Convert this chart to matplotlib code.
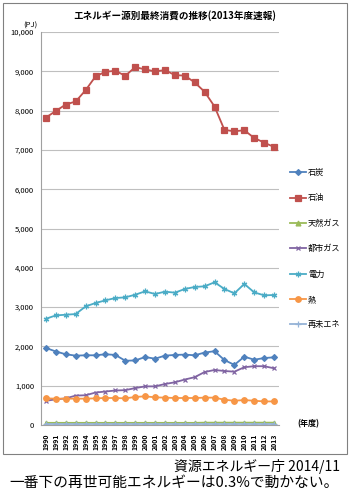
import matplotlib
matplotlib.use("Agg")
import matplotlib.pyplot as plt
from matplotlib.patches import Rectangle

plt.rcParams['font.family'] = ['Noto Sans CJK JP', 'DejaVu Sans']

years = [str(y) for y in range(1990, 2014)]

# 最終エネルギー消費 (PJ)
coal = [1960, 1870, 1800, 1765, 1774, 1774, 1800, 1783, 1635, 1643, 1730, 1687,
        1765, 1783, 1791, 1774, 1843, 1878, 1652, 1530, 1739, 1661, 1704, 1722]
oil = [7824, 7992, 8155, 8232, 8520, 8870, 8988, 9013, 8885, 9107, 9048, 8997,
       9031, 8903, 8890, 8717, 8478, 8104, 7508, 7474, 7500, 7304, 7186, 7074]
natgas = [55, 55, 55, 55, 55, 55, 55, 55, 55, 55, 55, 55,
          55, 55, 55, 55, 60, 60, 60, 60, 60, 60, 60, 60]
citygas = [617, 652, 678, 748, 757, 826, 852, 878, 887, 939, 983, 983,
           1043, 1087, 1157, 1217, 1348, 1400, 1374, 1357, 1470, 1496, 1496, 1443]
power = [2704, 2789, 2806, 2823, 3018, 3104, 3172, 3231, 3248, 3316, 3401, 3333,
         3393, 3367, 3461, 3512, 3529, 3631, 3461, 3350, 3589, 3375, 3299, 3308]
heat = [678, 670, 670, 670, 670, 678, 687, 687, 678, 713, 730, 704,
        696, 687, 687, 687, 696, 696, 643, 617, 635, 617, 600, 600]
renew = [35, 35, 35, 35, 35, 35, 35, 35, 35, 35, 35, 35,
         35, 35, 35, 35, 35, 35, 35, 35, 35, 35, 35, 35]

series = [
    ("石炭", coal, '#4F81BD', 'D', 3.0),
    ("石油", oil, '#C0504D', 's', 4.0),
    ("天然ガス", natgas, '#9BBB59', '^', 3.5),
    ("都市ガス", citygas, '#8064A2', 'x', 3.5),
    ("電力", power, '#4BACC6', (6, 2, 0), 4.0),
    ("熱", heat, '#F79646', 'o', 4.0),
    ("再未エネ", renew, '#95B3D7', '+', 4.0),
]

fig = plt.figure(figsize=(3.51, 4.96), dpi=100)
ax = fig.add_axes([41 / 351, 1 - 425 / 496, 238 / 351, 393 / 496])

x = list(range(len(years)))
for name, vals, col, mk, ms in series:
    ax.plot(x, vals, color=col, marker=mk, markersize=ms, linewidth=1.3,
            markeredgewidth=0.9, label=name)

ax.set_xlim(-0.5, len(years) - 0.5)
ax.set_ylim(0, 10000)
ax.set_yticks(range(0, 10001, 1000))
ax.set_yticklabels([f"{v:,}" for v in range(0, 10001, 1000)], fontsize=5.5)
ax.set_xticks(x)
ax.set_xticklabels(years, rotation=90, fontsize=5, fontweight='bold')
ax.tick_params(axis='y', length=0, pad=5)
ax.tick_params(axis='x', length=0, pad=6)
ax.grid(axis='y', color='#BFBFBF', linewidth=0.8)
ax.set_axisbelow(True)
for s in ['top', 'right']:
    ax.spines[s].set_visible(False)
for s in ['left', 'bottom']:
    ax.spines[s].set_color('#A0A0A0')
    ax.spines[s].set_linewidth(0.8)

leg = ax.legend(loc='upper left', bbox_to_anchor=(290 / 351, 1 - 168 / 496),
                bbox_transform=fig.transFigure, frameon=False, fontsize=5.9,
                labelspacing=2.0, handlelength=2.0, handletextpad=0.2,
                borderpad=0, borderaxespad=0)

fig.text(175 / 351, 1 - 16 / 496, "エネルギー源別最終消費の推移(2013年度速報)",
         ha='center', va='center', fontsize=6.9, fontweight='bold')
fig.text(30 / 351, 1 - 26 / 496, "(PJ)", ha='center', va='center', fontsize=5.5)
fig.text(308 / 351, 1 - 424 / 496, "(年度)", ha='center', va='center',
         fontsize=5.8, fontweight='bold')

fig.patches.append(Rectangle((3 / 351, 1 - 454 / 496), 344 / 351, 451 / 496,
                             transform=fig.transFigure, fill=False,
                             edgecolor='#808080', linewidth=0.8))

fig.text(340 / 351, 1 - 467 / 496, "資源エネルギー庁 2014/11",
         ha='right', va='center', fontsize=10)
fig.text(174 / 351, 1 - 483 / 496, "一番下の再世可能エネルギーは0.3%で動かない。",
         ha='center', va='center', fontsize=10.6)

fig.savefig("out.png", dpi=100)
